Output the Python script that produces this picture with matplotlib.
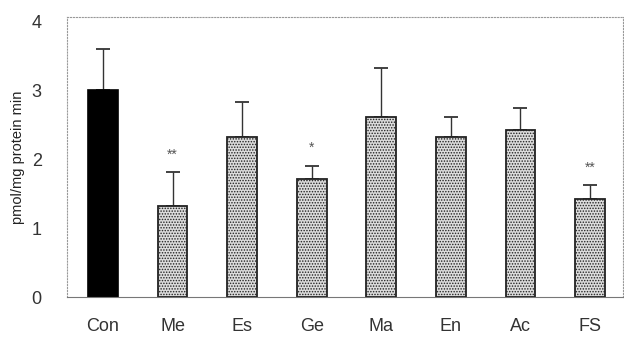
import numpy as np
import matplotlib
matplotlib.use('Agg')
import matplotlib.pyplot as plt

# data
groups = ['Con', 'Me', 'Es', 'Ge', 'Ma', 'En', 'Ac', 'FS']
means = [3.0, 1.32, 2.32, 1.72, 2.62, 2.32, 2.43, 1.42]
errs = [0.60, 0.49, 0.51, 0.18, 0.71, 0.30, 0.31, 0.20]
stars = ['', '**', '', '*', '', '', '', '**']

plt.rcParams['font.family'] = ['Liberation Sans', 'DejaVu Sans']
plt.rcParams['hatch.linewidth'] = 0.7
plt.rcParams['hatch.color'] = '#808080'

fig = plt.figure(figsize=(6.24, 3.38), dpi=100, facecolor='white')
ax = fig.add_axes([0.107, 0.121, 0.891, 0.828])

x = np.arange(len(groups))
for i in range(len(groups)):
    if i == 0:
        ax.bar(x[i], means[i], width=0.43, color='black', edgecolor='black', linewidth=1.2, zorder=2)
    else:
        ax.bar(x[i], means[i], width=0.43, color='#dcdcdc', edgecolor='#222222',
               linewidth=1.3, hatch='......', zorder=2)
    # upper error bar only
    ax.errorbar(x[i], means[i], yerr=[[0], [errs[i]]], fmt='none', ecolor='#333333',
                elinewidth=1.0, capsize=5, capthick=1.3, zorder=1)
    if stars[i]:
        ax.text(x[i], means[i] + errs[i] + 0.16, stars[i], ha='center', va='bottom',
                fontsize=10, color='#555555')

ax.set_xlim(-0.52, 7.47)
ax.set_ylim(0, 4.06)
ax.set_yticks([0, 1, 2, 3, 4])
ax.set_xticks(x)
ax.set_xticklabels(groups, fontsize=13, color='#333333')
ax.tick_params(axis='y', labelsize=13, colors='#333333', length=0, pad=18)
ax.tick_params(axis='x', length=0, pad=15)
ax.set_ylabel('pmol/mg protein min', fontsize=10.5, color='#222222', labelpad=5)

for s in ['top', 'left', 'right']:
    ax.spines[s].set_linestyle(':')
    ax.spines[s].set_color('#999999')
    ax.spines[s].set_linewidth(0.8)
ax.spines['bottom'].set_color('#777777')
ax.spines['bottom'].set_linewidth(0.8)

fig.savefig('out.png', dpi=100)
